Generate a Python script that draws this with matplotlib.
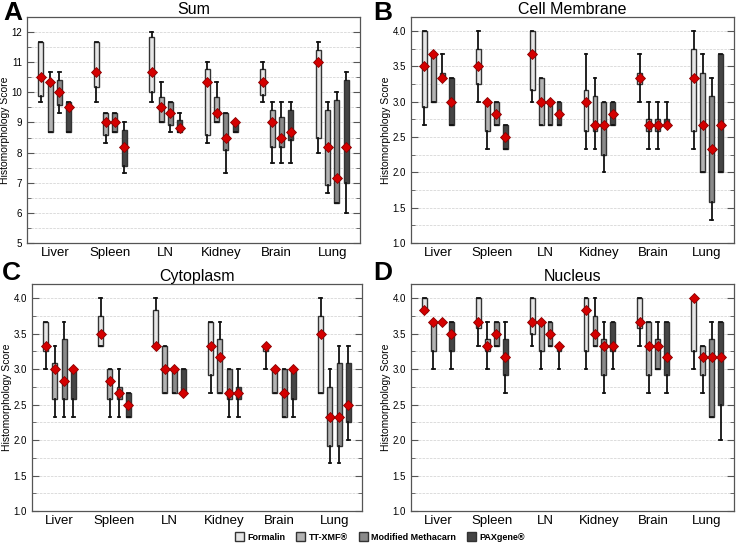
import matplotlib
matplotlib.use("Agg")
import matplotlib.pyplot as plt
from matplotlib.patches import Patch
from matplotlib.ticker import MultipleLocator

plt.rcParams["font.family"] = ["Liberation Sans", "DejaVu Sans"]

tissues = ["Liver", "Spleen", "LN", "Kidney", "Brain", "Lung"]
methods = ["Formalin", "TT-XMF®", "Modified Methacarn", "PAXgene®"]
colors = ["#e6e6e6", "#b3b3b3", "#8a8a8a", "#454545"]

# (min, q1, median, q3, max) per tissue
sum_formalin = [(9.67, 9.89, 10.5, 11.67, 11.67), (9.67, 10.17, 10.67, 11.67, 11.67),
                (9.67, 10.0, 10.67, 11.83, 12.0), (8.33, 8.58, 10.33, 10.76, 11.0),
                (9.67, 9.9, 10.33, 10.76, 11.0), (8.0, 8.5, 11.0, 11.42, 11.67)]
sum_ttxmf = [(8.67, 8.67, 10.33, 10.36, 10.67), (8.33, 8.58, 9.0, 9.33, 9.33),
             (9.0, 9.0, 9.5, 9.83, 10.33), (9.0, 9.0, 9.33, 9.83, 10.33),
             (7.67, 8.17, 9.0, 9.41, 9.67), (6.67, 6.91, 8.17, 9.41, 9.67)]
sum_methacarn = [(9.33, 9.58, 10.0, 10.41, 10.67), (8.67, 8.67, 9.0, 9.33, 9.33),
                 (8.67, 8.91, 9.33, 9.67, 9.67), (7.33, 8.08, 8.5, 9.33, 9.33),
                 (7.67, 8.17, 8.5, 9.17, 9.67), (6.33, 6.33, 7.16, 9.74, 10.0)]
sum_paxgene = [(8.67, 8.67, 9.5, 9.67, 9.67), (7.33, 7.57, 8.17, 8.74, 9.0),
               (8.67, 8.67, 8.83, 9.08, 9.33), (8.67, 8.67, 9.0, 9.03, 9.03),
               (7.67, 8.41, 8.67, 9.41, 9.67), (6.0, 6.99, 8.17, 10.41, 10.67)]

mem_formalin = [(2.67, 2.92, 3.5, 4.0, 4.0), (3.0, 3.25, 3.5, 3.75, 4.0),
                (3.0, 3.16, 3.67, 4.0, 4.0), (2.33, 2.58, 3.0, 3.16, 3.67),
                (3.0, 3.25, 3.33, 3.41, 3.67), (2.33, 2.58, 3.33, 3.75, 4.0)]
mem_ttxmf = [(3.0, 3.0, 3.67, 3.67, 3.67), (2.33, 2.58, 3.0, 3.0, 3.0),
             (2.67, 2.67, 3.0, 3.33, 3.33), (2.33, 2.58, 2.67, 3.08, 3.33),
             (2.33, 2.58, 2.67, 2.75, 3.0), (2.0, 2.0, 2.67, 3.41, 3.67)]
mem_methacarn = [(3.33, 3.35, 3.33, 3.41, 3.67), (2.67, 2.67, 2.83, 3.0, 3.0),
                 (2.67, 2.67, 3.0, 3.0, 3.0), (2.0, 2.24, 2.67, 3.0, 3.0),
                 (2.33, 2.58, 2.67, 2.75, 3.0), (1.33, 1.58, 2.33, 3.08, 3.33)]
mem_paxgene = [(2.67, 2.67, 3.0, 3.33, 3.33), (2.33, 2.33, 2.5, 2.67, 2.67),
               (2.67, 2.67, 2.83, 3.0, 3.0), (2.67, 2.67, 2.83, 3.0, 3.0),
               (2.67, 2.67, 2.67, 2.75, 3.0), (2.0, 2.0, 2.67, 3.67, 3.67)]

cyto_formalin = [(3.0, 3.25, 3.33, 3.67, 3.67), (3.33, 3.33, 3.5, 3.75, 4.0),
                 (3.33, 3.33, 3.33, 3.84, 4.0), (2.67, 2.92, 3.33, 3.67, 3.67),
                 (3.0, 3.25, 3.33, 3.33, 3.33), (2.67, 2.67, 3.5, 3.75, 4.0)]
cyto_ttxmf = [(2.33, 2.58, 3.0, 3.08, 3.33), (2.33, 2.58, 2.83, 3.0, 3.0),
              (2.67, 2.67, 3.0, 3.33, 3.33), (2.67, 2.67, 3.17, 3.42, 3.67),
              (2.67, 2.67, 3.0, 3.0, 3.0), (1.67, 1.92, 2.33, 2.75, 3.0)]
cyto_methacarn = [(2.33, 2.58, 2.83, 3.42, 3.67), (2.33, 2.58, 2.67, 2.75, 3.0),
                  (2.67, 2.67, 3.0, 3.0, 3.0), (2.33, 2.58, 2.67, 3.0, 3.0),
                  (2.33, 2.33, 2.67, 3.0, 3.0), (1.67, 1.92, 2.33, 3.08, 3.33)]
cyto_paxgene = [(2.33, 2.58, 3.0, 3.0, 3.0), (2.33, 2.33, 2.5, 2.67, 2.67),
                (2.67, 2.67, 2.67, 3.0, 3.0), (2.33, 2.58, 2.67, 2.75, 3.0),
                (2.33, 2.58, 3.0, 3.0, 3.0), (2.0, 2.25, 2.5, 3.08, 3.33)]

nuc_formalin = [(3.8, 3.8, 3.83, 4.0, 4.0), (3.33, 3.58, 3.67, 4.0, 4.0),
                (3.33, 3.5, 3.67, 4.0, 4.0), (3.0, 3.25, 3.83, 4.0, 4.0),
                (3.33, 3.58, 3.67, 4.0, 4.0), (3.0, 3.25, 4.0, 4.0, 4.0)]
nuc_ttxmf = [(3.0, 3.25, 3.67, 3.67, 3.67), (3.0, 3.25, 3.33, 3.42, 3.67),
             (3.0, 3.25, 3.67, 3.67, 3.67), (3.33, 3.33, 3.5, 3.75, 4.0),
             (2.67, 2.92, 3.33, 3.67, 3.67), (2.67, 2.92, 3.17, 3.33, 3.33)]
nuc_methacarn = [(3.67, 3.67, 3.67, 3.67, 3.67), (3.33, 3.33, 3.5, 3.67, 3.67),
                 (3.33, 3.33, 3.5, 3.67, 3.67), (2.67, 2.92, 3.33, 3.42, 3.67),
                 (3.0, 3.0, 3.33, 3.42, 3.67), (2.33, 2.33, 3.17, 3.42, 3.67)]
nuc_paxgene = [(3.0, 3.25, 3.5, 3.67, 3.67), (2.67, 2.92, 3.17, 3.42, 3.67),
               (3.0, 3.25, 3.33, 3.33, 3.33), (3.0, 3.25, 3.33, 3.67, 3.67),
               (2.67, 2.92, 3.17, 3.67, 3.67), (2.0, 2.5, 3.17, 3.67, 3.67)]

panels = [
    ("A", "Sum", [sum_formalin, sum_ttxmf, sum_methacarn, sum_paxgene], (5, 12.5), 1, 0.5, "%d"),
    ("B", "Cell Membrane", [mem_formalin, mem_ttxmf, mem_methacarn, mem_paxgene], (1, 4.2), 0.5, 0.25, "%.1f"),
    ("C", "Cytoplasm", [cyto_formalin, cyto_ttxmf, cyto_methacarn, cyto_paxgene], (1, 4.2), 0.5, 0.25, "%.1f"),
    ("D", "Nucleus", [nuc_formalin, nuc_ttxmf, nuc_methacarn, nuc_paxgene], (1, 4.2), 0.5, 0.25, "%.1f"),
]

W, H = 742, 548
rects = [(27, 360, 17, 243), (411, 734, 17, 243), (32, 362, 284, 511), (411, 734, 284, 511)]
letter_xy = [(3, 20), (373, 20), (2, 280), (373, 280)]
offsets = [-0.25, -0.0833, 0.0833, 0.25]

fig = plt.figure(figsize=(W / 100, H / 100), dpi=100)

for (letter, title, series, ylim, major, minor, fmt), (l, r, t, b), (lx, ly) in zip(panels, rects, letter_xy):
    ax = fig.add_axes([l / W, 1 - b / H, (r - l) / W, (b - t) / H])
    for k, data in enumerate(series):
        stats = [dict(whislo=d[0], q1=d[1], med=d[2], q3=d[3], whishi=d[4]) for d in data]
        pos = [i + offsets[k] for i in range(len(tissues))]
        ax.bxp(stats, positions=pos, widths=0.09, patch_artist=True, showfliers=False,
               boxprops=dict(facecolor=colors[k], edgecolor="#333333", linewidth=1.0),
               whiskerprops=dict(color="#111111", linewidth=1.3),
               capprops=dict(color="#111111", linewidth=1.3),
               medianprops=dict(linewidth=0), capwidths=0.05, zorder=3)
        ax.plot(pos, [d[2] for d in data], linestyle="none", marker="D", markersize=5.5,
                markerfacecolor="#d40000", markeredgecolor="#8b0000", markeredgewidth=0.6, zorder=5)
    ax.set_xlim(-0.5, len(tissues) - 0.5)
    ax.set_ylim(*ylim)
    ax.set_xticks(range(len(tissues)))
    ax.set_xticklabels(tissues, fontsize=9.5)
    ax.yaxis.set_major_locator(MultipleLocator(major))
    ax.yaxis.set_minor_locator(MultipleLocator(minor))
    ax.yaxis.set_major_formatter(matplotlib.ticker.FormatStrFormatter(fmt))
    ax.tick_params(axis="x", length=0, pad=3)
    ax.tick_params(axis="y", which="both", direction="in", left=True, right=True,
                   labelsize=7, color="#555555")
    ax.tick_params(axis="y", which="major", length=5)
    ax.tick_params(axis="y", which="minor", length=3)
    ax.grid(axis="y", which="both", linestyle="--", linewidth=0.5, color="#cfcfcf", zorder=0)
    ax.set_axisbelow(True)
    for s in ax.spines.values():
        s.set_color("#555555")
        s.set_linewidth(0.9)
    ax.set_ylabel("Histomorphology Score", fontsize=7.5, labelpad=1)
    ax.set_title(title, fontsize=11.5, pad=2)
    fig.text(lx / W, 1 - ly / H, letter, fontsize=19, fontweight="bold",
             va="baseline", ha="left")

handles = [Patch(facecolor=c, edgecolor="#333333", label=m) for c, m in zip(colors, methods)]
fig.legend(handles=handles, loc="center", bbox_to_anchor=(380 / W, 1 - 537 / H), ncol=4,
           frameon=False, prop=dict(size=6.5, weight="bold"), handlelength=1.0,
           handleheight=1.0, columnspacing=1.2, handletextpad=0.4)

fig.savefig("out.png", dpi=100)
